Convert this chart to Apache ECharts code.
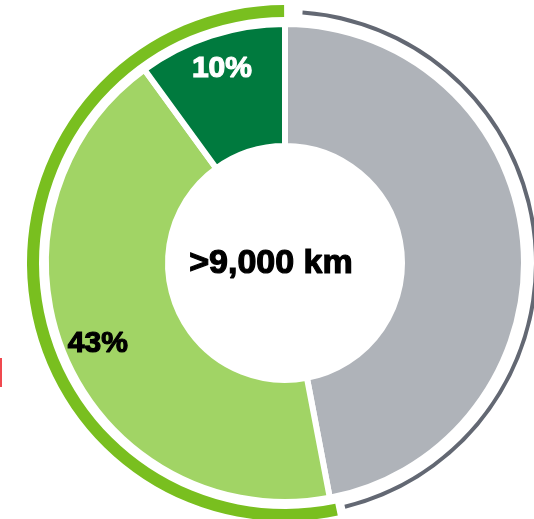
<!DOCTYPE html>
<html>
<head>
<meta charset="utf-8">
<script src="https://cdn.jsdelivr.net/npm/echarts@6/dist/echarts.min.js"></script>
<style>
  html, body { margin: 0; padding: 0; background: #fff; }
  #chart { width: 534px; height: 519px; }
</style>
</head>
<body>
<div id="chart"></div>
<script>
// slices, clockwise from the top
const categories = ['Other', 'Light green', 'Dark green'];
const shares = [47, 43, 10];
const sliceColors = ['#AFB3B9', '#A1D465', '#007A3E'];
const labelColors = ['transparent', '#000000', '#FFFFFF'];
const centerLabel = '>9,000 km';

const chart = echarts.init(document.getElementById('chart'));
const cx = 285, cy = 263;

// angle (echarts degrees) where the gray slice ends
const total = shares.reduce((a, b) => a + b, 0);
const split = 90 - 360 * shares[0] / total;

const pieData = categories.map((name, i) => ({
    name: name,
    value: shares[i],
    itemStyle: { color: sliceColors[i] }
}));

const labelData = categories.map((name, i) => ({
    name: name,
    value: shares[i],
    itemStyle: { color: 'transparent' },
    label: {
        show: i > 0,
        color: labelColors[i],
        textBorderColor: labelColors[i],
        textBorderWidth: 1.2
    }
}));

chart.setOption({
    animation: false,
    series: [
        {
            // main donut
            type: 'pie',
            center: [cx, cy],
            radius: [117, 239],
            startAngle: 90,
            clockwise: true,
            silent: true,
            label: { show: false },
            labelLine: { show: false },
            itemStyle: { borderColor: '#fff', borderWidth: 6 },
            data: pieData
        },
        {
            // invisible copy, only to place the percent labels further out
            type: 'pie',
            center: [cx, cy],
            radius: [163, 239],
            startAngle: 90,
            clockwise: true,
            silent: true,
            label: {
                position: 'inside',
                formatter: '{c}%',
                fontFamily: 'Liberation Sans, Arial, sans-serif',
                fontWeight: 'bold',
                fontSize: 30
            },
            labelLine: { show: false },
            data: labelData
        },
        {
            // thin gray outer arc
            type: 'pie',
            center: [cx, cy],
            radius: [249, 253],
            startAngle: 86,
            endAngle: split + 3,
            clockwise: true,
            silent: true,
            label: { show: false },
            data: [{ value: shares[0], itemStyle: { color: '#636873' } }]
        },
        {
            // thick green outer arc
            type: 'pie',
            center: [cx, cy],
            radius: [246, 258],
            startAngle: split + 1,
            endAngle: -269.8,
            clockwise: true,
            silent: true,
            label: { show: false },
            data: [{ value: shares[1] + shares[2], itemStyle: { color: '#79BF1F' } }]
        }
    ],
    graphic: [
        {
            type: 'text',
            style: {
                x: 271,
                y: 264,
                text: centerLabel,
                align: 'center',
                verticalAlign: 'middle',
                fontFamily: 'Liberation Sans, Arial, sans-serif',
                fontWeight: 'bold',
                fontSize: 34,
                fill: '#000',
                stroke: '#000',
                lineWidth: 1.2
            }
        },
        {
            type: 'rect',
            shape: { x: 0, y: 358, width: 2, height: 29 },
            style: { fill: '#F0494F' }
        }
    ]
});
</script>
</body>
</html>
